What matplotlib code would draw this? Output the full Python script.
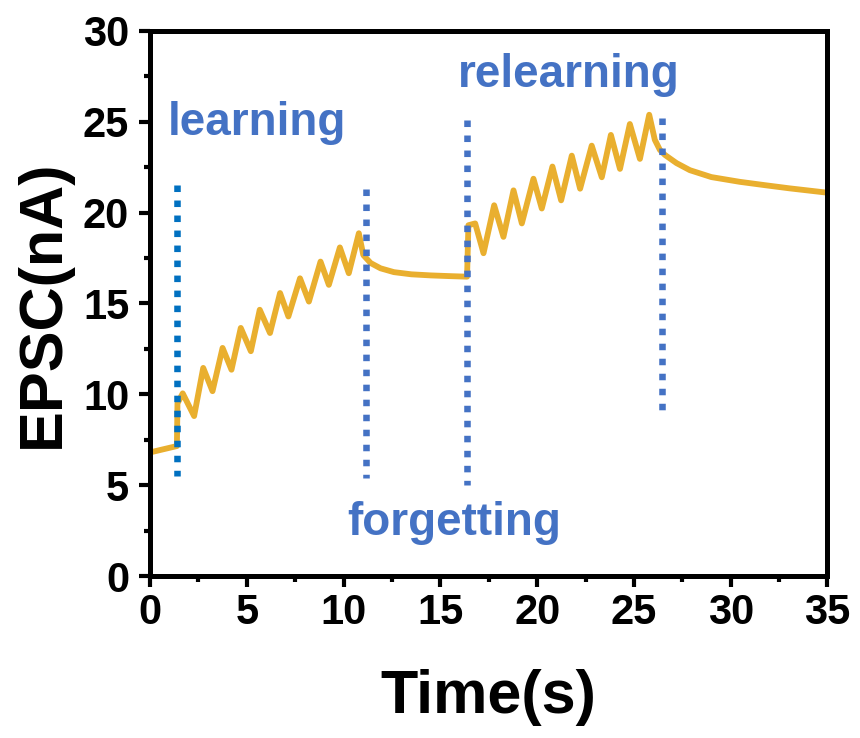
import matplotlib
matplotlib.use("Agg")
import matplotlib.pyplot as plt
from matplotlib.ticker import MultipleLocator

plt.rcParams["font.family"] = ["Liberation Sans", "DejaVu Sans"]
plt.rcParams["font.weight"] = "bold"

# EPSC trace: learning train, forgetting decay, relearning train, final decay
time_s = [
    0.0, 1.39, 1.42, 1.69, 2.28, 2.75, 3.23, 3.75, 4.21, 4.69, 5.21, 5.67,
    6.20, 6.72, 7.15, 7.75, 8.21, 8.81, 9.24, 9.81, 10.27, 10.79, 11.02,
    11.4, 11.91, 12.6, 13.5, 14.5, 15.5, 16.38, 16.45, 16.80, 17.23, 17.78,
    18.26, 18.78, 19.21, 19.81, 20.24, 20.79, 21.24, 21.79, 22.22, 22.82,
    23.34, 23.81, 24.28, 24.79, 25.31, 25.79, 26.08, 26.34, 26.6, 27.2,
    27.89, 29.0, 30.46, 31.8, 33.04, 35.0,
]
epsc_na = [
    6.80, 7.15, 9.5, 10.05, 8.80, 11.45, 10.17, 12.55, 11.35, 13.65, 12.37,
    14.65, 13.37, 15.57, 14.28, 16.38, 15.10, 17.30, 16.02, 18.08, 16.66,
    18.86, 17.66, 17.22, 16.93, 16.72, 16.60, 16.54, 16.50, 16.47, 19.30,
    19.40, 17.76, 20.40, 18.66, 21.22, 19.40, 21.86, 20.22, 22.53, 20.67,
    23.13, 21.31, 23.68, 21.94, 24.27, 22.40, 24.87, 22.95, 25.38, 24.0,
    23.45, 23.17, 22.72, 22.33, 21.95, 21.69, 21.50, 21.33, 21.09,
]

# phase boundaries (dotted markers)
marker_t = [1.39, 11.17, 16.38, 26.46]
marker_lo = [5.5, 5.4, 5.0, 8.7]
marker_hi = [21.5, 21.3, 25.1, 25.2]
marker_colors = ["#0070C0", "#4472C4", "#4472C4", "#4472C4"]

phase_names = ["learning", "forgetting", "relearning"]
phase_xy = [(0.93, 24.27), (10.18, 2.26), (15.91, 26.91)]

fig = plt.figure(figsize=(8.6, 7.38), dpi=100)
ax = fig.add_axes([0.1744, 0.2195, 0.7878, 0.7388])

ax.plot(time_s, epsc_na, color="#E9AF2F", lw=4.2,
        solid_joinstyle="round", solid_capstyle="round", zorder=2)

for t, lo, hi, c in zip(marker_t, marker_lo, marker_hi, marker_colors):
    ax.plot([t, t], [hi, lo], color=c, lw=4.7, linestyle=(0, (1, 1.3)),
            dash_capstyle="butt", zorder=3)

for name, (x, y) in zip(phase_names, phase_xy):
    ax.text(x, y, name, color="#4472C4", fontsize=33, fontweight="bold",
            ha="left", va="baseline")

ax.set_xlim(0, 35)
ax.set_ylim(0, 30)
ax.xaxis.set_major_locator(MultipleLocator(5))
ax.xaxis.set_minor_locator(MultipleLocator(2.5))
ax.yaxis.set_major_locator(MultipleLocator(5))
ax.yaxis.set_minor_locator(MultipleLocator(2.5))

for s in ax.spines.values():
    s.set_linewidth(3.6)
ax.tick_params(which="major", direction="out", length=8, width=3, labelsize=30)
ax.tick_params(which="minor", direction="out", length=4, width=3)
ax.tick_params(axis="x", which="major", pad=4)
ax.tick_params(axis="y", which="major", pad=7)

ax.set_xlabel("Time(s)", fontsize=44, fontweight="bold", labelpad=26)
ax.set_ylabel("EPSC(nA)", fontsize=44, fontweight="bold", labelpad=8)

fig.savefig("out.png", dpi=100)
